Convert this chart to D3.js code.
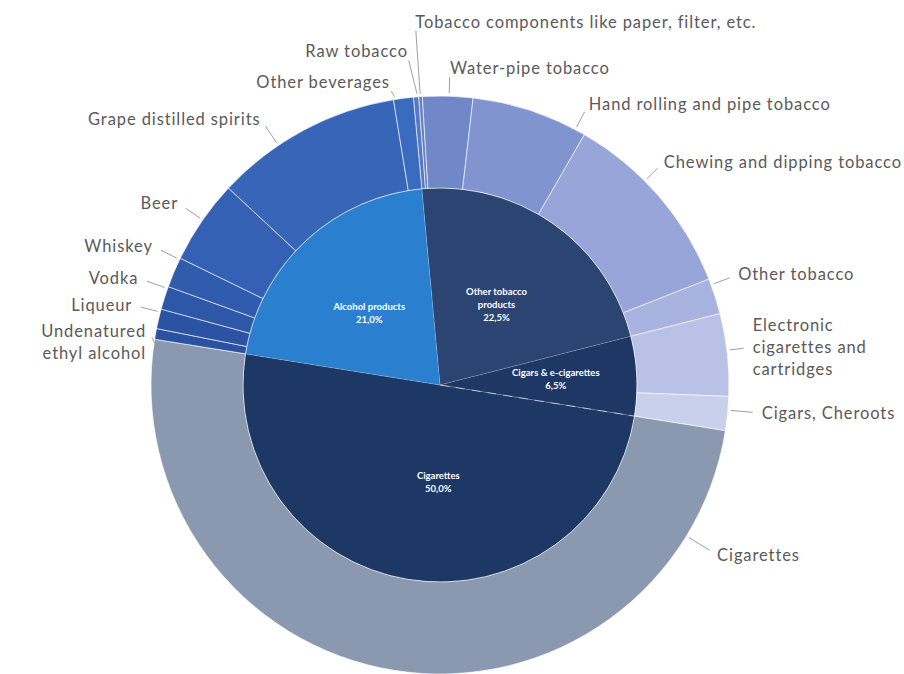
<!DOCTYPE html>
<html>
<head>
<meta charset="utf-8">
<script src="https://cdn.jsdelivr.net/npm/d3@7"></script>
<style>
  body { margin: 0; background: #fff; }
  svg { display: block; }
  .outer-label { font-family: Lato, "Open Sans", sans-serif; font-size: 16.5px; letter-spacing: 0.9px; fill: #5a5a5a; }
  .inner-label { font-family: Lato, "Open Sans", sans-serif; font-size: 9.5px; font-weight: bold; fill: #fff; }
  .leader { stroke: #a0a0a0; stroke-width: 1; fill: none; }
</style>
</head>
<body>
<svg width="904" height="674"></svg>
<script>
// inner ring: product groups, clockwise from just left of 12 o'clock
var groups = ["Other tobacco products", "Cigars & e-cigarettes", "Cigarettes", "Alcohol products"];
var groupLines = [["Other tobacco", "products"], ["Cigars & e-cigarettes"], ["Cigarettes"], ["Alcohol products"]];

// outer ring: products, their group and share of total (%)
var products = [
  "Raw tobacco", "Tobacco components like paper, filter, etc.", "Water-pipe tobacco",
  "Hand rolling and pipe tobacco", "Chewing and dipping tobacco", "Other tobacco",
  "Electronic cigarettes and cartridges", "Cigars, Cheroots",
  "Cigarettes",
  "Undenatured ethyl alcohol", "Liqueur", "Vodka", "Whiskey", "Beer",
  "Grape distilled spirits", "Other beverages"
];
var productGroup = [0, 0, 0, 0, 0, 0, 1, 1, 2, 3, 3, 3, 3, 3, 3, 3];
var productShare = [0.3, 0.2, 2.8, 6.5, 10.7, 2.0, 4.6, 1.9, 50.0, 0.6, 1.1, 1.3, 1.7, 4.7, 10.5, 1.1];
var productLines = [
  ["Raw tobacco"], ["Tobacco components like paper, filter, etc."], ["Water-pipe tobacco"],
  ["Hand rolling and pipe tobacco"], ["Chewing and dipping tobacco"], ["Other tobacco"],
  ["Electronic", "cigarettes and", "cartridges"], ["Cigars, Cheroots"],
  ["Cigarettes"],
  ["Undenatured", "ethyl alcohol"], ["Liqueur"], ["Vodka"], ["Whiskey"], ["Beer"],
  ["Grape distilled spirits"], ["Other beverages"]
];

var groupColors = ["#2c4472", "#1e3764", "#1d3865", "#2a80cf"];
var productColors = [
  "#5a78c2", "#6580c5", "#7088c8", "#8194d0", "#97a5d9", "#a8b3df",
  "#b9c2e6", "#c9d0eb", "#8b99b0",
  "#2b51a1", "#2c53a3", "#2e57a8", "#315bac", "#3461b3", "#3766b9", "#3a6bbf"
];

// label placement around the ring: [angle deg, radius, anchor]
var labelSpots = [
  [-5.5, 335, "end"], [-3.9, 364, "start"], [1.8, 317, "start"],
  [27.9, 318, "start"], [45.1, 316, "start"], [69.7, 318, "start"],
  [83.1, 315, "start"], [95, 323, "start"], [121.5, 325, "start"],
  [278.3, 297, "end"], [284.6, 318, "end"], [289.5, 320, "end"], [295.8, 319, "end"],
  [304.8, 319, "end"], [326, 321, "end"], [-9.4, 307, "end"]
];
var innerSpots = [[35.2, 98], [87, 116], [181, 97], [315.5, 101]];

var svg = d3.select("svg"),
    cx = 440, cy = 385,
    innerR = 197, outerR = 289,
    startDeg = -5.3,
    startAngle = startDeg * Math.PI / 180;

var chart = svg.append("g")
    .attr("transform", "translate(" + cx + "," + cy + ")");

// build hierarchy from the arrays
var tree = {
  name: "all",
  children: groups.map(function(g, gi) {
    return {
      name: g, gi: gi,
      children: products.map(function(p, i) {
        return { name: p, pi: i, value: productShare[i], g: productGroup[i] };
      }).filter(function(d) { return d.g === gi; })
    };
  })
};

var root = d3.hierarchy(tree).sum(function(d) { return d.value || 0; });
d3.partition().size([1, 2])(root);

var angle = d3.scaleLinear().domain([0, 1]).range([startAngle, startAngle + 2 * Math.PI]);
var deg = d3.scaleLinear().domain([0, 1]).range([startDeg, startDeg + 360]);
var radius = d3.scaleOrdinal().domain([1, 2]).range([[0, innerR], [innerR, outerR]]);

var arc = d3.arc()
    .startAngle(function(d) { return angle(d.x0); })
    .endAngle(function(d) { return angle(d.x1); })
    .innerRadius(function(d) { return radius(d.depth)[0]; })
    .outerRadius(function(d) { return radius(d.depth)[1]; });

function polar(r, a) {
  var t = a * Math.PI / 180;
  return [r * Math.sin(t), -r * Math.cos(t)];
}

var nodes = root.descendants().filter(function(d) { return d.depth > 0; });

chart.selectAll(".slice")
    .data(nodes)
  .enter().append("path")
    .attr("class", "slice")
    .attr("d", arc)
    .attr("fill", function(d) {
      return d.depth === 1 ? groupColors[d.data.gi] : productColors[d.data.pi];
    })
    .attr("stroke", "#fff")
    .attr("stroke-opacity", function(d) { return d.depth === 1 ? 0.15 : 0.6; })
    .attr("stroke-width", 1);

// dashed divider between cigars & e-cigarettes and cigarettes
var cigNode = nodes.filter(function(d) { return d.depth === 1 && d.data.gi === 2; })[0];
var divEnd = polar(innerR, deg(cigNode.x0));
chart.append("line")
    .attr("x1", 0).attr("y1", 0)
    .attr("x2", divEnd[0]).attr("y2", divEnd[1])
    .attr("stroke", "#fff")
    .attr("stroke-opacity", 0.55)
    .attr("stroke-dasharray", "9,7");

// inner labels
var fmt = function(v) { return d3.format(".1f")(v).replace(".", ",") + "%"; };
nodes.filter(function(d) { return d.depth === 1; }).forEach(function(d) {
  var gi = d.data.gi,
      p = polar(innerSpots[gi][1], innerSpots[gi][0]),
      lines = groupLines[gi].concat([fmt(d.value)]),
      lh = 13;
  var t = chart.append("text")
      .attr("class", "inner-label")
      .attr("text-anchor", "middle")
      .attr("x", p[0])
      .attr("y", p[1] - (lines.length - 1) * lh / 2);
  lines.forEach(function(l, k) {
    t.append("tspan").attr("x", p[0]).attr("dy", k === 0 ? "0.35em" : lh).text(l);
  });
});

// outer labels with leader lines
nodes.filter(function(d) { return d.depth === 2; }).forEach(function(d) {
  var pi = d.data.pi,
      spot = labelSpots[pi],
      a0 = deg(d.x0), a1 = deg(d.x1),
      la = spot[0] < startDeg ? spot[0] + 360 : spot[0],
      // leader starts at the label's angle if it falls on the slice, else the nearest edge
      sa = Math.max(a0 + 0.3, Math.min(a1 - 0.3, la)),
      p0 = polar(outerR + 3, sa),
      p1 = polar(spot[1] - 9, spot[0]),
      p = polar(spot[1], spot[0]),
      lines = productLines[pi],
      lh = 22;

  chart.append("line")
      .attr("class", "leader")
      .attr("x1", p0[0]).attr("y1", p0[1])
      .attr("x2", p1[0]).attr("y2", p1[1]);

  var t = chart.append("text")
      .attr("class", "outer-label")
      .attr("text-anchor", spot[2])
      .attr("x", p[0])
      .attr("y", p[1] - (lines.length - 1) * lh / 2);
  lines.forEach(function(l, k) {
    t.append("tspan").attr("x", p[0]).attr("dy", k === 0 ? "0.35em" : lh).text(l);
  });
});
</script>
</body>
</html>
